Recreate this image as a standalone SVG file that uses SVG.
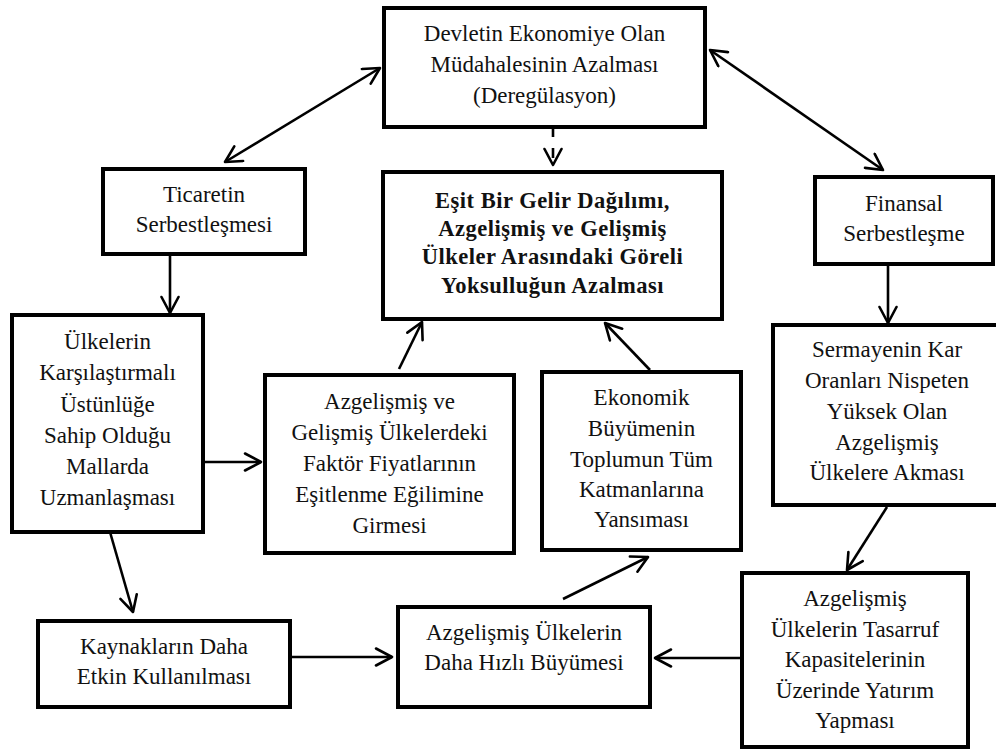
<svg xmlns="http://www.w3.org/2000/svg" width="996" height="749" viewBox="0 0 996 749">
<style>
  .box { fill: #ffffff; stroke: #000000; stroke-width: 4; }
  .t { font-family: "Liberation Serif", "Times New Roman", serif; font-size: 23px; fill: #111111; text-anchor: middle; }
  .b { font-family: "Liberation Serif", "Times New Roman", serif; font-size: 22.5px; font-weight: bold; letter-spacing: 0.5px; fill: #111111; text-anchor: middle; }
  .c { stroke: #000000; stroke-width: 2.6; fill: none; stroke-linecap: butt; }
  .dash { stroke-dasharray: 10 11; }
</style>
<defs>
  <marker id="ah" viewBox="0 0 20 20" refX="18" refY="10" markerUnits="userSpaceOnUse" markerWidth="20" markerHeight="20" orient="auto-start-reverse">
    <path d="M2,1.5 L18,10 L2,18.5" fill="none" stroke="#000000" stroke-width="2.6" stroke-linejoin="round" stroke-linecap="round"/>
  </marker>
</defs>
<rect width="996" height="749" fill="#ffffff"/>

<g id="connectors">
  <line class="c" x1="225" y1="162" x2="380" y2="68" marker-start="url(#ah)" marker-end="url(#ah)"/>
  <line class="c" x1="710" y1="50" x2="883" y2="170" marker-start="url(#ah)" marker-end="url(#ah)"/>
  <line class="c dash" x1="553" y1="127" x2="553" y2="165" marker-end="url(#ah)"/>
  <line class="c" x1="170" y1="254" x2="170" y2="313" marker-end="url(#ah)"/>
  <line class="c" x1="888" y1="264" x2="888" y2="323" marker-end="url(#ah)"/>
  <line class="c" x1="205" y1="462" x2="261" y2="462" marker-end="url(#ah)"/>
  <line class="c" x1="399" y1="369" x2="422" y2="322" marker-end="url(#ah)"/>
  <line class="c" x1="650" y1="370" x2="605" y2="323" marker-end="url(#ah)"/>
  <line class="c" x1="110" y1="532" x2="133" y2="612" marker-end="url(#ah)"/>
  <line class="c" x1="292" y1="657" x2="392" y2="657" marker-end="url(#ah)"/>
  <line class="c" x1="742" y1="658" x2="655" y2="658" marker-end="url(#ah)"/>
  <line class="c" x1="563" y1="599" x2="648" y2="557" marker-end="url(#ah)"/>
  <line class="c" x1="887" y1="507" x2="847" y2="570" marker-end="url(#ah)"/>
</g>

<g id="devlet">
  <rect class="box" x="384" y="8" width="321" height="119"/>
  <text class="t" x="544.5" y="41">Devletin Ekonomiye Olan</text>
  <text class="t" x="544.5" y="72">Müdahalesinin Azalması</text>
  <text class="t" x="544.5" y="103">(Deregülasyon)</text>
</g>

<g id="ticaret">
  <rect class="box" x="103" y="169" width="202" height="85"/>
  <text class="t" x="204" y="202">Ticaretin</text>
  <text class="t" x="204" y="232">Serbestleşmesi</text>
</g>

<g id="esit">
  <rect class="box" x="383" y="172" width="339" height="147"/>
  <text class="b" x="552.5" y="208">Eşit Bir Gelir Dağılımı,</text>
  <text class="b" x="552.5" y="236">Azgelişmiş ve Gelişmiş</text>
  <text class="b" x="552.5" y="264">Ülkeler Arasındaki Göreli</text>
  <text class="b" x="552.5" y="293">Yoksulluğun Azalması</text>
</g>

<g id="finansal">
  <rect class="box" x="815" y="177" width="178" height="87"/>
  <text class="t" x="904" y="211">Finansal</text>
  <text class="t" x="904" y="241">Serbestleşme</text>
</g>

<g id="ulkeler">
  <rect class="box" x="12" y="315" width="191" height="217"/>
  <text class="t" x="107.5" y="349">Ülkelerin</text>
  <text class="t" x="107.5" y="380">Karşılaştırmalı</text>
  <text class="t" x="107.5" y="412">Üstünlüğe</text>
  <text class="t" x="107.5" y="443">Sahip Olduğu</text>
  <text class="t" x="107.5" y="474">Mallarda</text>
  <text class="t" x="107.5" y="505">Uzmanlaşması</text>
</g>

<g id="faktor">
  <rect class="box" x="265" y="375" width="249" height="178"/>
  <text class="t" x="389.5" y="409">Azgelişmiş ve</text>
  <text class="t" x="389.5" y="440">Gelişmiş Ülkelerdeki</text>
  <text class="t" x="389.5" y="471">Faktör Fiyatlarının</text>
  <text class="t" x="389.5" y="502">Eşitlenme Eğilimine</text>
  <text class="t" x="389.5" y="533">Girmesi</text>
</g>

<g id="ekonomik">
  <rect class="box" x="542" y="372" width="199" height="178"/>
  <text class="t" x="641.5" y="405">Ekonomik</text>
  <text class="t" x="641.5" y="436">Büyümenin</text>
  <text class="t" x="641.5" y="467">Toplumun Tüm</text>
  <text class="t" x="641.5" y="497">Katmanlarına</text>
  <text class="t" x="641.5" y="527">Yansıması</text>
</g>

<g id="sermaye">
  <rect class="box" x="773" y="325" width="232" height="180"/>
  <text class="t" x="887" y="357">Sermayenin Kar</text>
  <text class="t" x="887" y="388">Oranları Nispeten</text>
  <text class="t" x="887" y="419">Yüksek Olan</text>
  <text class="t" x="887" y="450">Azgelişmiş</text>
  <text class="t" x="887" y="480">Ülkelere Akması</text>
</g>

<g id="tasarruf">
  <rect class="box" x="742" y="573" width="226" height="174"/>
  <text class="t" x="855" y="606">Azgelişmiş</text>
  <text class="t" x="855" y="637">Ülkelerin Tasarruf</text>
  <text class="t" x="855" y="667">Kapasitelerinin</text>
  <text class="t" x="855" y="698">Üzerinde Yatırım</text>
  <text class="t" x="855" y="728">Yapması</text>
</g>

<g id="hizli">
  <rect class="box" x="398" y="607" width="252" height="100"/>
  <text class="t" x="524" y="640">Azgelişmiş Ülkelerin</text>
  <text class="t" x="524" y="670">Daha Hızlı Büyümesi</text>
</g>

<g id="kaynaklar">
  <rect class="box" x="38" y="621" width="252" height="86"/>
  <text class="t" x="164" y="654">Kaynakların Daha</text>
  <text class="t" x="164" y="684">Etkin Kullanılması</text>
</g>
</svg>
